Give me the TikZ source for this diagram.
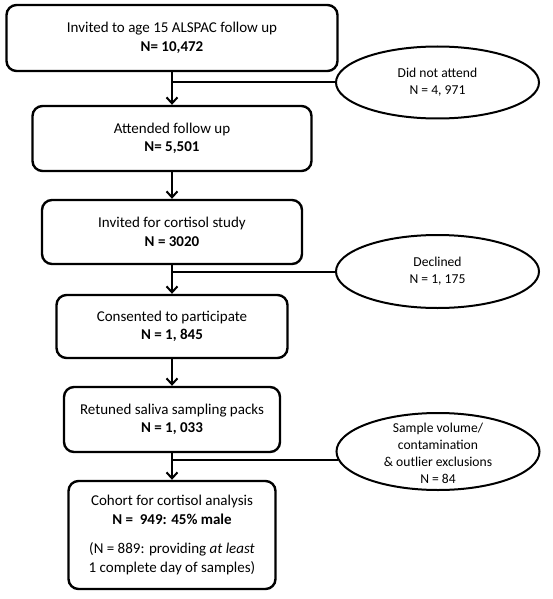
\documentclass[tikz,border=0pt]{standalone}
\usepackage{fontspec}
\setmainfont{Carlito}
\usepackage{tikz}
\usetikzlibrary{arrows.meta,shapes.geometric}
\tikzstyle{stage} = [draw, line width=2.4pt, rounded corners=10pt, align=center, font=\fontsize{15}{18.5}\selectfont]
\tikzstyle{dropout} = [draw, line width=2pt, ellipse, minimum width=203, minimum height=72]
\tikzstyle{droptext} = [align=center, font=\fontsize{13.6}{16.8}\selectfont]
\tikzstyle{arrow} = [line width=2pt, -{Straight Barb[length=6pt, width=11pt]}]
\tikzstyle{link} = [line width=2pt]

\begin{document}
\begin{tikzpicture}[x=1pt, y=-1pt]
\useasboundingbox (0,0) rectangle (552,599);

% Main stages
\node[stage, minimum width=331, minimum height=66] (b1) at (172,38) {Invited to age 15 ALSPAC follow up\\\textbf{N= 10,472}};
\node[stage, minimum width=279, minimum height=65] (b2) at (172,138.5) {Attended follow up\\\textbf{N= 5,501}};
\node[stage, minimum width=260, minimum height=64] (b3) at (172,232) {Invited for cortisol study\\\textbf{N = 3020}};
\node[stage, minimum width=231, minimum height=63] (b4) at (172,326.5) {Consented to participate\\\textbf{N = 1, 845}};
\node[stage, minimum width=216, minimum height=65] (b5) at (172,419.5) {Retuned saliva sampling packs\\\textbf{N = 1, 033}};
\node[stage, minimum width=207, minimum height=108] (b6) at (172,535) {Cohort for cortisol analysis\\\textbf{N = \ 949: 45\% male}\\[11pt](N = 889: providing \textit{at least}\\1 complete day of samples)};

% Exclusions
\node[dropout, label={[droptext]center:Did not attend\\N = 4, 971}] (e1) at (437.5,82.5) {};
\node[dropout, minimum height=73, label={[droptext]center:Declined\\N = 1, 175}] (e2) at (437.5,271.5) {};
\node[dropout, minimum height=77, label={[droptext, yshift=-2pt]center:Sample volume/\\contamination\\\& outlier exclusions\\N = 84}] (e3) at (438,451.5) {};

% Flow
\draw[arrow] (b1) -- (b2);
\draw[arrow] (b2) -- (b3);
\draw[arrow] (b3) -- (b4);
\draw[arrow] (b4) -- (b5);
\draw[arrow] (b5) -- (b6);

\draw[link] (e1.west) -- (e1.west -| b1.south);
\draw[link] (e2.west) -- (e2.west -| b3.south);
\draw[link] (e3.185) -- (e3.185 -| b5.south);
\end{tikzpicture}
\end{document}
